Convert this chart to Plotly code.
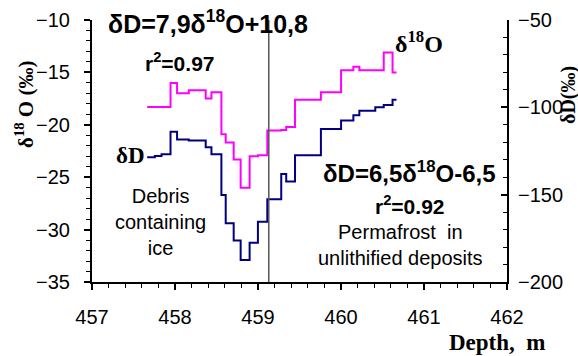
import plotly.graph_objects as go

# delta 18O step series (depth m, value permil); value holds until next depth
o18_depth = [457.665, 457.946, 458.025, 458.166, 458.370, 458.439, 458.559, 458.611,
             458.707, 458.791, 458.899, 458.999, 459.112, 459.280, 459.340, 459.446,
             459.758, 460.001, 460.149, 460.221, 460.515, 460.621, 460.669]
o18_value = [-18.3, -16.0, -17.0, -16.7, -17.5, -16.9, -20.9, -21.7,
             -23.3, -26.0, -23.0, -22.9, -20.55, -20.5, -20.2, -17.6,
             -16.9, -14.8, -14.45, -14.8, -13.1, -15.0, -15.0]

# delta D step series
dD_depth = [457.665, 457.757, 457.838, 457.946, 458.025, 458.166, 458.370, 458.439,
            458.559, 458.611, 458.707, 458.791, 458.899, 458.999, 459.112, 459.280,
            459.340, 459.446, 459.758, 460.001, 460.149, 460.221, 460.413, 460.515,
            460.621, 460.669]
dD_value = [-128.6, -127.9, -126.8, -114.0, -118.4, -119.0, -122.9, -126.8,
            -150.2, -166.4, -176.3, -187.4, -177.5, -165.5, -152.6, -138.2,
            -142.4, -127.4, -112.4, -107.6, -104.6, -101.9, -100.0, -98.6,
            -95.6, -95.6]

boundary_depth = 459.13
x_ticks = [457, 458, 459, 460, 461, 462]
o18_ticks = [-35, -30, -25, -20, -15, -10]
dD_ticks = [-200, -150, -100, -50]

fig = go.Figure()
fig.add_trace(go.Scatter(x=o18_depth, y=o18_value, mode="lines", line_shape="hv",
                         line=dict(color="#ff00ff", width=2), yaxis="y"))
fig.add_trace(go.Scatter(x=dD_depth, y=dD_value, mode="lines", line_shape="hv",
                         line=dict(color="#000080", width=2), yaxis="y2"))

fig.add_shape(type="line", xref="x", yref="paper", x0=boundary_depth, x1=boundary_depth,
              y0=0, y1=1, line=dict(color="#555555", width=1.5))

L, R, T, B = 92, 507, 20, 282
tickfont = dict(family="Liberation Sans, Arial", size=20, color="black")
fig.update_layout(
    width=578, height=356,
    margin=dict(l=L, r=578 - R, t=T, b=356 - B),
    plot_bgcolor="white", paper_bgcolor="white",
    showlegend=False,
    xaxis=dict(range=[457, 462], tickvals=x_ticks, showgrid=False, zeroline=False,
               automargin=False,
               showline=True, linecolor="black", linewidth=2,
               ticks="outside", ticklen=6, tickwidth=1.5, tickcolor="black",
               minor=dict(dtick=0.2, ticks="outside", ticklen=4, tickcolor="black", tickwidth=1),
               tickfont=tickfont, ticklabelstandoff=10),
    yaxis=dict(range=[-35, -10], tickvals=o18_ticks, showgrid=False, zeroline=False,
               automargin=False,
               showline=True, linecolor="black", linewidth=2,
               ticks="outside", ticklen=6, tickwidth=1.5, tickcolor="black",
               minor=dict(dtick=1, ticks="outside", ticklen=4, tickcolor="black", tickwidth=1),
               tickfont=tickfont, ticklabelstandoff=10),
    yaxis2=dict(range=[-200, -50], tickvals=dD_ticks, overlaying="y", side="right",
                showgrid=False, zeroline=False, automargin=False,
                showline=True, linecolor="black", linewidth=2,
                ticks="inside", ticklen=6, tickwidth=1.5, tickcolor="black",
                minor=dict(dtick=10, ticks="inside", ticklen=4, tickcolor="black", tickwidth=1),
                tickfont=tickfont, ticklabelstandoff=5),
)

serif_b = dict(family="Liberation Serif, Times New Roman", size=21, color="black")
sans_b = dict(family="Liberation Sans, Arial", size=24, color="black")
sans = dict(family="Liberation Sans, Arial", size=20, color="black")


def px(xp, yp):
    # convert pixel coords to paper coords
    return (xp - L) / (R - L), (B - yp) / (B - T)


def ann(text, xp, yp, font, angle=0):
    x, y = px(xp, yp)
    fig.add_annotation(text=text, xref="paper", yref="paper", x=x, y=y,
                       showarrow=False, font=font, textangle=angle,
                       xanchor="center", yanchor="middle")


ann("<b>δD=7,9δ<sup>18</sup>O+10,8</b>", 208, 22, dict(sans_b, size=25))
ann("<b>r<sup>2</sup>=0.97</b>", 180, 62, dict(sans_b, size=21))
ann("<b>δ<sup>18</sup>O</b>", 419, 42, dict(serif_b, size=24))
ann("<b>δD</b>", 130, 155, dict(serif_b, size=23))
ann("Debris<br>containing<br>ice", 160, 222, sans)
ann("<b>δD=6,5δ<sup>18</sup>O-6,5</b>", 409, 172, sans_b)
ann("<b>r<sup>2</sup>=0.92</b>", 410, 205, dict(sans_b, size=21))
ann("Permafrost  in<br>unlithified deposits", 400, 245, sans)
ann("<b>δ<sup>18</sup> O (‰)</b>", 24, 105, serif_b, -90)
ann("<b>δD(‰)</b>", 568, 95, dict(serif_b, size=20), -90)
ann("<b>Depth,  m</b>", 497, 342, dict(serif_b, size=23))

fig.write_html("out.html", config={"displayModeBar": False},
               post_script="document.body.style.margin='0';document.body.style.padding='0';")
